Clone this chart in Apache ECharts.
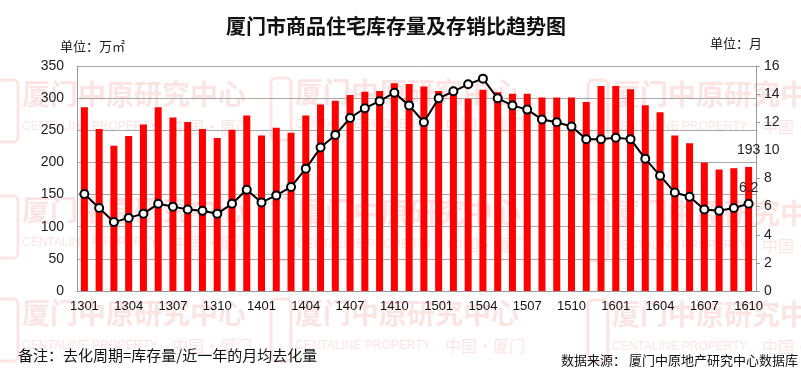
<!DOCTYPE html>
<html>
<head>
<meta charset="utf-8">
<script src="https://cdn.jsdelivr.net/npm/echarts@6/dist/echarts.min.js"></script>
<style>
html,body{margin:0;padding:0;background:#fff;}
#c{width:801px;height:369px;}
</style>
</head>
<body>
<div id="c"></div>
<script>
var categories = ['1301','1302','1303','1304','1305','1306','1307','1308','1309','1310','1311','1312',
  '1401','1402','1403','1404','1405','1406','1407','1408','1409','1410','1411','1412',
  '1501','1502','1503','1504','1505','1506','1507','1508','1509','1510','1511','1512',
  '1601','1602','1603','1604','1605','1606','1607','1608','1609','1610'];
var inventory = [286,252,226,241,259,286,270,263,252,238,251,273,
  242,254,246,273,290,296,305,310,311,323,322,318,
  311,307,299,313,309,307,307,301,301,301,294,319,
  319,314,289,278,242,230,200,189,191,193];
var ratio = [6.9,5.9,4.9,5.2,5.5,6.2,6.0,5.8,5.7,5.5,6.2,7.2,
  6.3,6.8,7.4,8.7,10.2,11.1,12.3,13.0,13.5,14.1,13.2,12.0,
  13.7,14.2,14.7,15.1,13.7,13.2,12.9,12.2,12.0,11.7,10.8,10.8,
  10.9,10.8,9.4,8.2,7.0,6.7,5.8,5.7,5.9,6.2];
var leftTicks = {min:0, max:350, interval:50};
var rightTicks = {min:0, max:16, interval:2};

var NUM_FONT = '"Liberation Sans Narrow","Liberation Sans",Arial,sans-serif';
var CJK = '"Noto Sans CJK SC","Noto Sans",sans-serif';
var WM = 'rgba(240,120,120,0.2)';

function wmTile(x, y) {
  return [
    {type:'rect', z:0, silent:true, shape:{x:x-24, y:y-14, width:20, height:62, r:5}, style:{fill:'none', stroke:WM, lineWidth:3}},
    {type:'text', z:0, silent:true, x:x, y:y, style:{text:'厦门中原研究中心', font:'bold 28px '+CJK, fill:WM, textVerticalAlign:'middle'}},
    {type:'text', z:0, silent:true, x:x, y:y+33, style:{text:'CENTALINE PROPERTY', font:'12px "Liberation Sans Narrow",sans-serif', fill:WM, textVerticalAlign:'middle'}},
    {type:'text', z:0, silent:true, x:x+150, y:y+33, style:{text:'中国·厦门', font:'16px '+CJK, fill:WM, textVerticalAlign:'middle'}}
  ];
}
var wm = [];
[[22,94],[22,210],[22,313],[295,92],[297,212],[295,313],[612,94],[612,213],[612,314]].forEach(function(p){
  wm = wm.concat(wmTile(p[0], p[1]));
});

var chart = echarts.init(document.getElementById('c'));
var last = inventory.length - 1;
chart.setOption({
  animation:false,
  backgroundColor:'#fff',
  grid:{left:77, right:45, top:66, bottom:78, containLabel:false},
  graphic: wm.concat([
    {type:'text', x:396, y:26, style:{text:'厦门市商品住宅库存量及存销比趋势图', font:'bold 20px '+CJK, fill:'#111', textAlign:'center', textVerticalAlign:'middle'}},
    {type:'text', x:60, y:46, style:{text:'单位：万㎡', font:'13px '+CJK, fill:'#222', textVerticalAlign:'middle'}},
    {type:'text', x:710, y:43, style:{text:'单位：月', font:'13px '+CJK, fill:'#222', textVerticalAlign:'middle'}},
    {type:'text', x:18, y:355, style:{text:'备注：去化周期=库存量/近一年的月均去化量', font:'15px '+CJK, fill:'#111', textVerticalAlign:'middle'}},
    {type:'text', x:798, y:360, style:{text:'数据来源： 厦门中原地产研究中心数据库', font:'13px '+CJK, fill:'#111', textAlign:'right', textVerticalAlign:'middle'}}
  ]),
  xAxis:{
    type:'category', data:categories, boundaryGap:true,
    axisLine:{show:true, lineStyle:{color:'#999', width:1}},
    axisTick:{show:false},
    axisLabel:{interval:2, fontSize:13, fontFamily:NUM_FONT, color:'#111', margin:9}
  },
  yAxis:[
    {type:'value', min:leftTicks.min, max:leftTicks.max, interval:leftTicks.interval,
     axisLine:{show:true, lineStyle:{color:'#999'}}, axisTick:{show:false},
     splitLine:{show:true, lineStyle:{color:'#a8a8a8', width:1}},
     axisLabel:{fontSize:14, fontFamily:NUM_FONT, color:'#222', margin:13}},
    {type:'value', position:'right', min:rightTicks.min, max:rightTicks.max, interval:rightTicks.interval,
     axisLine:{show:true, lineStyle:{color:'#999'}}, axisTick:{show:true, length:4, lineStyle:{color:'#999'}},
     splitLine:{show:false},
     axisLabel:{fontSize:14, fontFamily:NUM_FONT, color:'#222', margin:8}}
  ],
  series:[
    {type:'bar', yAxisIndex:0, barWidth:7, z:2,
     itemStyle:{color:'#ff0000'},
     data: inventory.map(function(v,i){
       return i===last ? {value:v, label:{show:true, position:'top', distance:10, fontSize:14, fontFamily:NUM_FONT, color:'#222'}} : v;
     })},
    {type:'line', yAxisIndex:1, z:3, symbol:'circle', symbolSize:8,
     lineStyle:{color:'#000', width:2},
     itemStyle:{color:'#fff', borderColor:'#000', borderWidth:2},
     data: ratio.map(function(v,i){
       return i===last ? {value:v, label:{show:true, position:'top', distance:4, fontSize:14, fontFamily:NUM_FONT, color:'#222'}} : v;
     })}
  ]
});
</script>
</body>
</html>
